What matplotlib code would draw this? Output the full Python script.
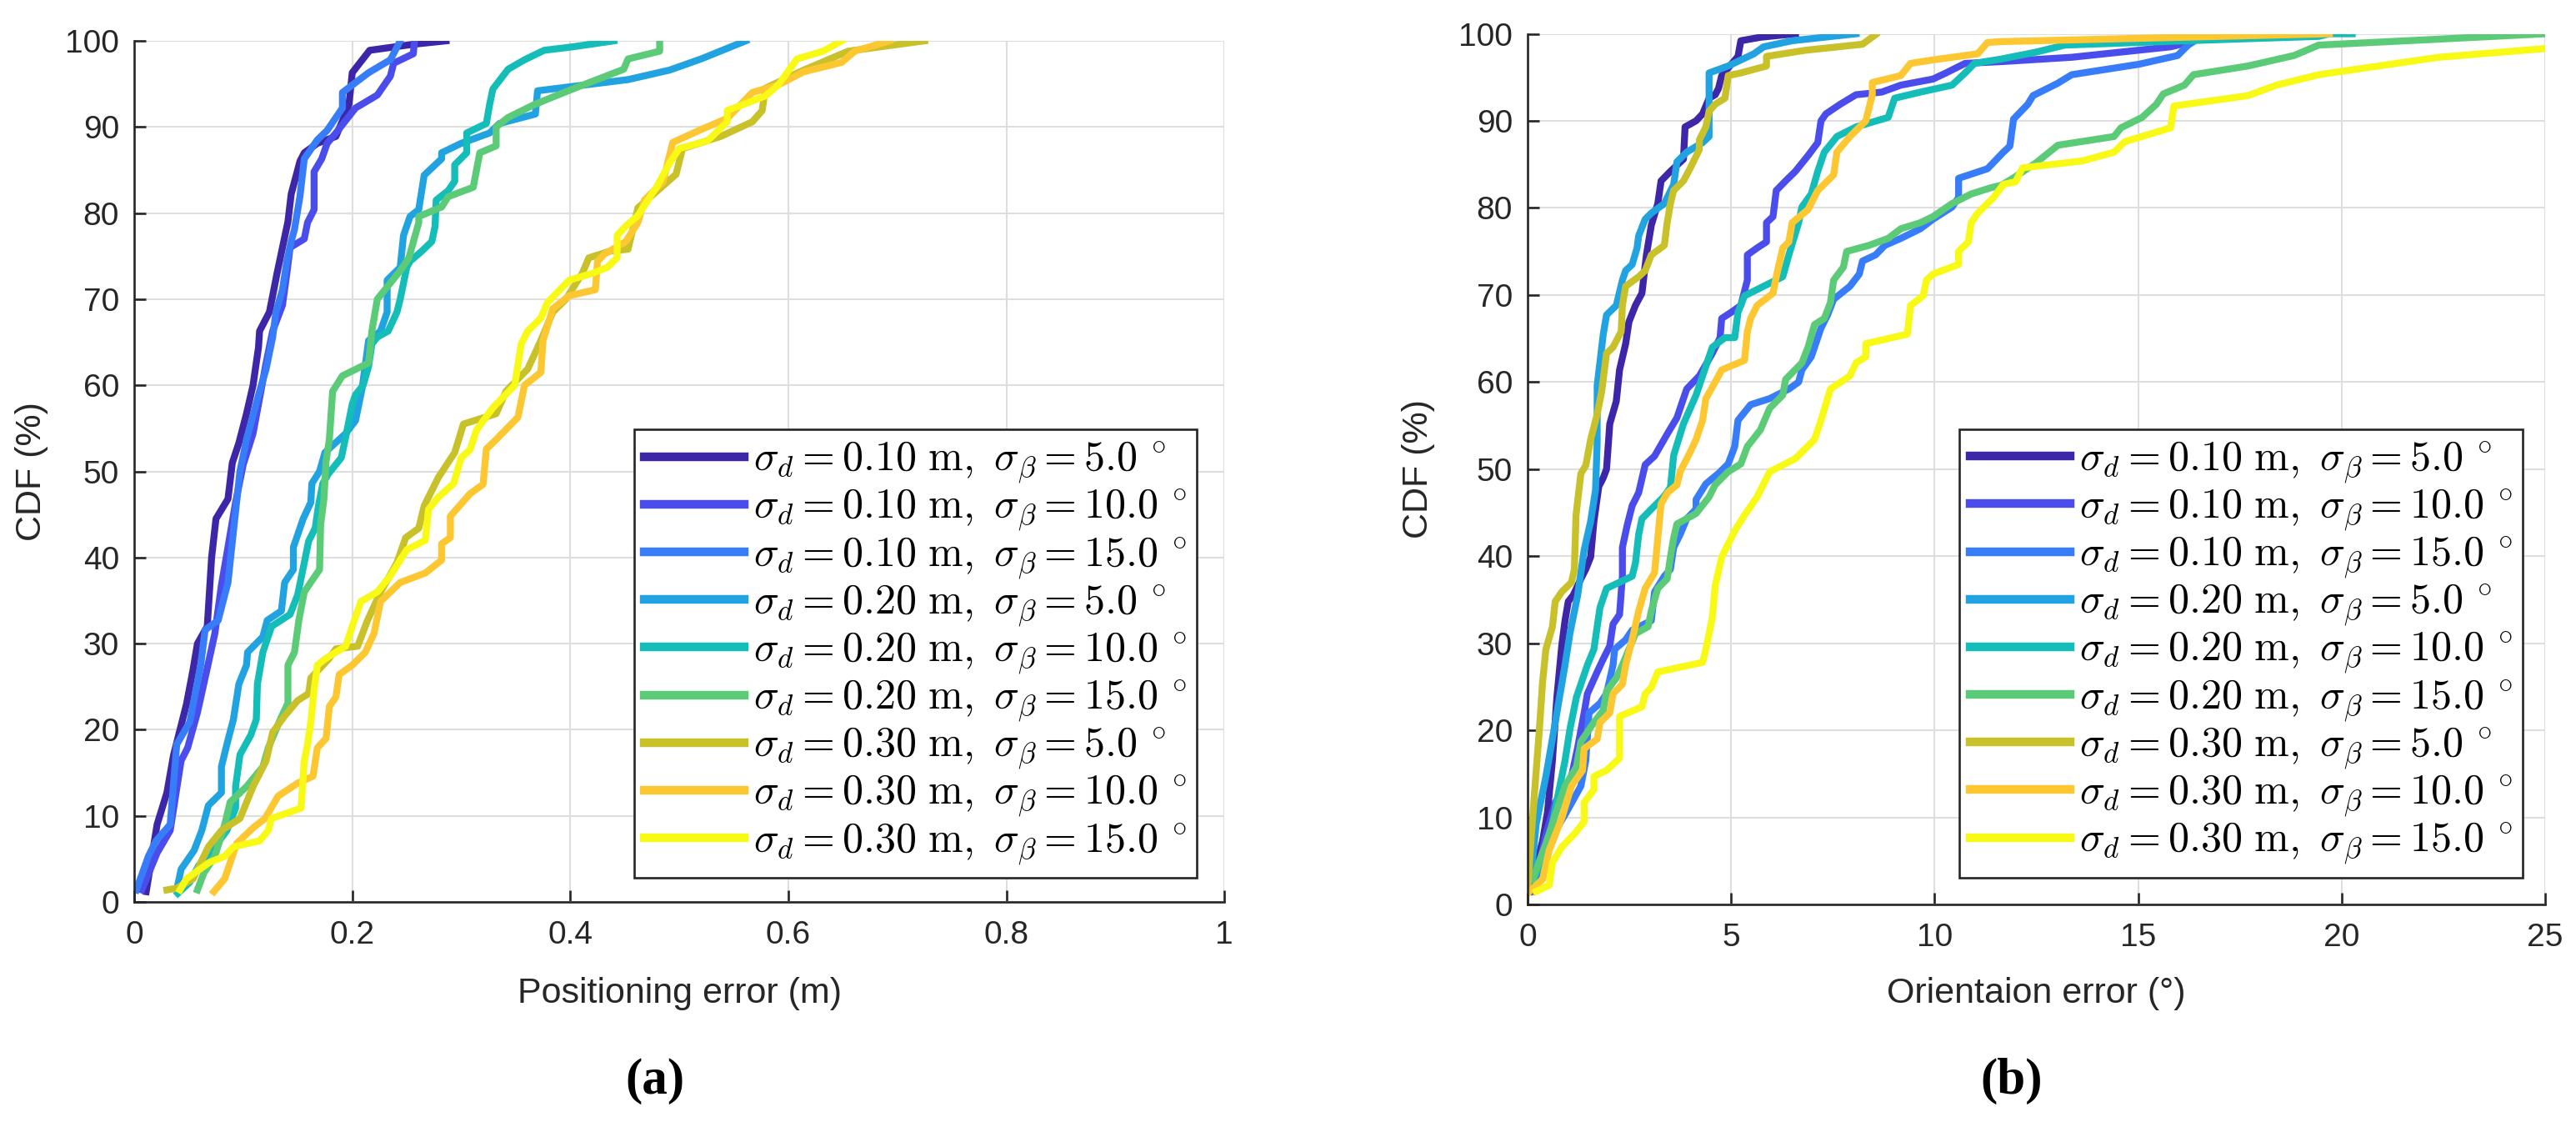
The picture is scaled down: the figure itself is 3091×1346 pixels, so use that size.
import numpy as np
import matplotlib
matplotlib.use("Agg")
import matplotlib.pyplot as plt

# ---- data (x value, CDF %) ----
sigma_d = ["0.10", "0.10", "0.10", "0.20", "0.20", "0.20", "0.30", "0.30", "0.30"]
sigma_b = ["5.0", "10.0", "15.0", "5.0", "10.0", "15.0", "5.0", "10.0", "15.0"]
colors = ["#3E26A8", "#4A4DEB", "#377CF9", "#20A3E0", "#14BDB8",
          "#5CCB77", "#C8C12A", "#FDC732", "#F8F914"]

# (a) positioning error (m)
pos_d10_b5 = [(0.011, 1.2), (0.021, 9), (0.030, 12.7), (0.036, 17), (0.048, 23), (0.054, 27),
              (0.058, 30), (0.067, 32), (0.071, 40), (0.075, 44.5), (0.086, 46.8), (0.090, 51),
              (0.096, 53.3), (0.103, 56.7), (0.109, 60), (0.114, 64.4), (0.115, 66.3), (0.124, 68.5),
              (0.127, 70.4), (0.131, 73), (0.136, 76), (0.141, 79), (0.144, 82.2), (0.152, 86),
              (0.156, 87), (0.168, 88.1), (0.185, 88.9), (0.191, 90.7), (0.197, 92.6), (0.200, 96.3),
              (0.216, 98.9), (0.256, 99.6), (0.286, 100)]
pos_d10_b10 = [(0.007, 1.4), (0.021, 5.7), (0.033, 8.3), (0.043, 16.4), (0.049, 17.9), (0.058, 22),
               (0.065, 26), (0.074, 31.2), (0.080, 36.8), (0.086, 41.2), (0.093, 46.4), (0.100, 50.8),
               (0.109, 54.4), (0.115, 58.5), (0.121, 62.6), (0.127, 66.3), (0.136, 69.3), (0.140, 73),
               (0.143, 76), (0.156, 77), (0.159, 78.9), (0.165, 80.4), (0.165, 84.8), (0.172, 86.3),
               (0.177, 88.1), (0.185, 89.3), (0.203, 92.2), (0.223, 93.7), (0.235, 95.9), (0.238, 97.4),
               (0.256, 98.5), (0.257, 99.8)]
pos_d10_b15 = [(0.002, 1.4), (0.013, 5.3), (0.020, 7.1), (0.033, 9), (0.039, 18.3), (0.051, 20.9),
               (0.061, 27.5), (0.065, 31.6), (0.077, 32.7), (0.086, 37.1), (0.092, 44.2), (0.097, 50),
               (0.103, 53.7), (0.115, 59.3), (0.121, 61.9), (0.127, 65.6), (0.130, 68.5), (0.136, 71.1),
               (0.140, 74.4), (0.144, 76.7), (0.147, 78.1), (0.152, 81.9), (0.156, 86.3), (0.168, 88.5),
               (0.177, 89.6), (0.191, 92.2), (0.191, 94), (0.215, 96.3), (0.235, 97.8), (0.244, 100)]
pos_d20_b5 = [(0.040, 2.0), (0.043, 3.8), (0.055, 6), (0.062, 8.3), (0.068, 11.2), (0.080, 12.7),
              (0.080, 15.7), (0.085, 18.3), (0.091, 21.2), (0.096, 25.3), (0.103, 27.5), (0.104, 29),
              (0.118, 30.8), (0.122, 32.7), (0.135, 33.8), (0.138, 37.1), (0.146, 38.6), (0.146, 41.2),
              (0.155, 44.5), (0.162, 46.4), (0.163, 48.6), (0.170, 50), (0.175, 52.2), (0.194, 54.4),
              (0.203, 55.9), (0.209, 59.6), (0.215, 65.2), (0.226, 66.3), (0.232, 68.5), (0.232, 72.2),
              (0.244, 73.7), (0.247, 77.4), (0.253, 79.6), (0.261, 80.4), (0.266, 84.4), (0.282, 86.3),
              (0.282, 87), (0.300, 88.1), (0.326, 89.3), (0.335, 90.4), (0.368, 91.5), (0.370, 94.2),
              (0.453, 95.5), (0.491, 96.6), (0.520, 97.9), (0.561, 100)]
pos_d20_b10 = [(0.040, 1), (0.051, 2.3), (0.059, 4.2), (0.074, 6.4), (0.085, 8.3), (0.093, 10.9),
               (0.093, 13.4), (0.097, 17.1), (0.107, 19.4), (0.112, 21.2), (0.113, 25.3), (0.118, 29),
               (0.126, 32), (0.143, 33.4), (0.150, 35.7), (0.156, 39.4), (0.160, 41.9), (0.166, 43.4),
               (0.169, 46), (0.173, 48.6), (0.178, 49.7), (0.190, 51.6), (0.194, 54), (0.200, 57.8),
               (0.203, 58.9), (0.210, 60), (0.215, 62.2), (0.218, 64.8), (0.223, 65.6), (0.233, 66.3),
               (0.241, 68.5), (0.244, 70), (0.250, 73.7), (0.253, 74.4), (0.264, 75.6), (0.273, 76.7),
               (0.276, 78.5), (0.277, 81.5), (0.288, 82.6), (0.294, 83.7), (0.294, 85.6), (0.305, 87),
               (0.305, 89.3), (0.323, 90.4), (0.326, 92.6), (0.329, 94.4), (0.343, 96.7), (0.358, 97.8),
               (0.376, 98.9), (0.402, 99.3), (0.440, 100)]
pos_d20_b15 = [(0.058, 1.4), (0.064, 3.4), (0.074, 5.3), (0.083, 9), (0.088, 11.6), (0.103, 13.4),
               (0.118, 15.7), (0.123, 17.9), (0.134, 21.2), (0.141, 23.1), (0.141, 27.5), (0.147, 29),
               (0.151, 32.7), (0.156, 36), (0.164, 37.5), (0.170, 38.6), (0.171, 43.8), (0.174, 46.8),
               (0.176, 51.2), (0.179, 53.7), (0.182, 59.3), (0.191, 61.1), (0.215, 62.6), (0.218, 66.3),
               (0.223, 70), (0.244, 73.3), (0.252, 74.8), (0.261, 78.9), (0.261, 79.6), (0.282, 80.7),
               (0.288, 81.9), (0.311, 83), (0.317, 87), (0.332, 87.8), (0.332, 90), (0.343, 91.1),
               (0.367, 92.6), (0.402, 94.4), (0.449, 96.7), (0.453, 97.9), (0.482, 98.8), (0.482, 100)]
pos_d30_b5 = [(0.030, 1.4), (0.039, 1.6), (0.054, 2.7), (0.068, 6.4), (0.080, 8.3), (0.097, 9.7),
              (0.109, 13.4), (0.121, 16.4), (0.127, 19.7), (0.138, 21.6), (0.150, 23.4), (0.160, 24.2),
              (0.162, 26), (0.179, 28.3), (0.185, 29.4), (0.205, 29.7), (0.214, 32.7), (0.226, 36),
              (0.241, 39.4), (0.249, 42.3), (0.261, 43.4), (0.266, 46), (0.279, 49.3), (0.294, 52.2),
              (0.302, 55.5), (0.332, 56.7), (0.341, 59.3), (0.361, 61.9), (0.373, 65.2), (0.384, 68.5),
              (0.396, 70), (0.411, 73), (0.417, 74.8), (0.437, 75.6), (0.453, 75.8), (0.462, 80.6),
              (0.497, 84.5), (0.503, 87.5), (0.538, 88.9), (0.567, 90.6), (0.576, 91.9), (0.579, 94.5),
              (0.614, 96.6), (0.655, 98.8), (0.725, 100)]
pos_d30_b10 = [(0.073, 1.2), (0.083, 2.7), (0.094, 6.8), (0.109, 8.6), (0.120, 9.7), (0.132, 12.3),
               (0.150, 13.8), (0.164, 14.6), (0.168, 17.9), (0.176, 19), (0.179, 22.7), (0.185, 23.8),
               (0.188, 26.4), (0.200, 27.5), (0.212, 29), (0.220, 31.2), (0.226, 34.9), (0.244, 37.1),
               (0.267, 38.2), (0.282, 39.7), (0.282, 41.6), (0.290, 42.3), (0.290, 44.8), (0.308, 47.4),
               (0.320, 48.5), (0.323, 52.6), (0.332, 53.7), (0.352, 56.3), (0.358, 60), (0.373, 61.5),
               (0.375, 65.2), (0.384, 68.9), (0.399, 70.4), (0.423, 71.1), (0.425, 74.4), (0.431, 75.2),
               (0.451, 76.7), (0.462, 78.9), (0.468, 81.5), (0.485, 83.6), (0.491, 86.7), (0.494, 88.2),
               (0.520, 89.7), (0.544, 91), (0.567, 94), (0.591, 94.9), (0.614, 96.4), (0.649, 97.5),
               (0.661, 98.8), (0.693, 100)]
pos_d30_b15 = [(0.042, 1.4), (0.048, 2.7), (0.069, 4.6), (0.083, 5.3), (0.091, 6.4), (0.115, 7.1),
               (0.123, 8.3), (0.126, 9.7), (0.153, 10.9), (0.156, 16.4), (0.159, 18.3), (0.162, 20.9),
               (0.165, 24.6), (0.168, 27.5), (0.176, 28.3), (0.194, 29.7), (0.200, 32), (0.208, 34.9),
               (0.223, 36), (0.235, 37.9), (0.250, 40.9), (0.267, 42), (0.270, 45.6), (0.279, 47),
               (0.293, 48.6), (0.300, 51.6), (0.308, 52.5), (0.314, 54.8), (0.329, 57.4), (0.349, 60),
               (0.355, 64.8), (0.361, 66.3), (0.373, 67.8), (0.379, 69.6), (0.399, 72.2), (0.420, 73),
               (0.434, 73.7), (0.443, 74.8), (0.443, 77.4), (0.451, 78.5), (0.462, 79.7), (0.480, 83.2),
               (0.491, 85.8), (0.500, 87.5), (0.526, 88.4), (0.544, 90.6), (0.544, 91.9), (0.579, 93.6),
               (0.591, 94.9), (0.608, 97.9), (0.632, 98.8), (0.649, 100)]

# (b) orientation error (deg)
ori_d10_b5 = [(0.055, 1.5), (0.37, 7.3), (0.49, 10.6), (0.61, 16.5), (0.72, 23.8), (0.84, 29.7),
              (0.92, 32.6), (1.0, 34.8), (1.12, 35.5), (1.31, 37.4), (1.43, 38.5), (1.55, 39.9),
              (1.63, 44), (1.75, 48), (1.86, 49), (1.94, 50), (2.02, 55.2), (2.18, 57.8), (2.26, 61.4),
              (2.41, 64.4), (2.49, 66.9), (2.65, 68.8), (2.81, 70.2), (2.92, 74.6), (3.04, 78),
              (3.20, 80.5), (3.28, 83.1), (3.51, 84.2), (3.83, 85.6), (3.87, 89.3), (4.14, 90),
              (4.30, 90.8), (4.46, 92.6), (4.61, 93), (4.69, 93.7), (4.77, 95.2), (5.17, 97.4),
              (5.24, 99.2), (5.72, 99.6), (6.58, 100)]
ori_d10_b10 = [(0.13, 1.5), (0.45, 8), (0.68, 11.7), (1.08, 14.7), (1.23, 18), (1.39, 22), (1.47, 24.2),
               (1.71, 26.7), (1.86, 28.2), (2.02, 29.7), (2.10, 32.2), (2.26, 33.3), (2.33, 37.7),
               (2.33, 41), (2.45, 43.6), (2.57, 45.8), (2.73, 47.3), (2.89, 50.5), (3.12, 51.5),
               (3.44, 54.1), (3.67, 55.9), (3.91, 59.2), (4.22, 60.7), (4.54, 63.3), (4.73, 65.1),
               (4.77, 67.3), (5.0, 68), (5.24, 68.8), (5.40, 71.7), (5.40, 74.6), (5.64, 75.4),
               (5.87, 76.1), (5.87, 78.3), (6.03, 79), (6.11, 82), (6.34, 83.1), (6.58, 84.2),
               (6.89, 86), (7.13, 87.5), (7.21, 90), (7.33, 90.8), (7.68, 91.9), (8.07, 93),
               (8.70, 93.3), (9.17, 94.1), (9.96, 94.8), (10.28, 95.5), (10.75, 96.6), (11.64, 96.8),
               (13.37, 97.3), (15.80, 98.5), (16.32, 99.1), (16.66, 100)]
ori_d10_b15 = [(0.21, 2.6), (0.53, 7.3), (0.92, 10.3), (1.31, 13.6), (1.43, 16.5), (1.51, 22),
               (1.78, 23.1), (1.94, 24.2), (2.10, 27.5), (2.14, 29.3), (2.41, 30.4), (2.57, 31.5),
               (3.04, 32.6), (3.12, 35.9), (3.36, 37.7), (3.51, 38.5), (3.59, 41), (3.75, 42.5),
               (3.91, 44.3), (4.14, 45.4), (4.14, 46.5), (4.38, 48.3), (4.69, 49.5), (4.93, 50.6),
               (5.09, 52.6), (5.17, 55.6), (5.48, 57.4), (5.95, 58.1), (6.42, 59.2), (6.66, 60),
               (6.74, 61.4), (6.97, 62.9), (7.13, 65.1), (7.21, 66.2), (7.37, 67.7), (7.52, 69.5),
               (7.92, 71), (8.15, 72.4), (8.23, 73.9), (8.55, 74.6), (8.78, 75.7), (9.17, 76.5),
               (9.65, 77.6), (9.96, 78.7), (10.43, 80.1), (10.59, 81.2), (10.59, 83.4), (11.30, 84.5),
               (11.69, 86.4), (11.85, 87.1), (11.94, 90.2), (12.29, 91.9), (12.42, 92.9), (13.02, 94.3),
               (13.37, 95.3), (15.02, 96.5), (15.97, 97.5), (16.23, 98.7), (16.66, 100)]
ori_d20_b5 = [(0.055, 1.8), (0.21, 9.2), (0.45, 14.7), (0.68, 20.9), (0.92, 27.5), (1.04, 31.1),
              (1.23, 35.5), (1.39, 40.7), (1.55, 44), (1.67, 47.6), (1.71, 53), (1.71, 59.6),
              (1.86, 65.5), (1.94, 67.7), (2.18, 68.8), (2.33, 71.7), (2.41, 72.8), (2.57, 73.5),
              (2.69, 75.4), (2.73, 76.8), (2.89, 78.7), (3.04, 79.4), (3.36, 80.5), (3.59, 82.7),
              (3.67, 85.3), (3.91, 86.4), (4.30, 87.5), (4.46, 88.2), (4.46, 92.2), (4.46, 95.5),
              (4.93, 96.3), (5.56, 97.7), (5.80, 98.5), (6.50, 99.2), (8.07, 100)]
ori_d20_b10 = [(0.13, 2.6), (0.53, 7.3), (0.68, 11), (0.92, 16.5), (1.04, 20.1), (1.20, 23.8),
               (1.31, 25.3), (1.47, 27.5), (1.63, 29.3), (1.71, 31.9), (1.78, 34.1), (1.94, 36.3),
               (2.26, 37), (2.57, 37.7), (2.65, 39.2), (2.73, 42.5), (2.81, 44.3), (3.04, 45.4),
               (3.36, 46.9), (3.51, 47.9), (3.59, 51.6), (3.83, 55.2), (4.14, 58.5), (4.30, 60.7),
               (4.54, 64), (4.85, 65.1), (5.09, 65.1), (5.17, 68), (5.33, 69.9), (5.80, 71),
               (6.27, 72.1), (6.42, 74.6), (6.66, 78.3), (6.74, 80.1), (6.97, 81.6), (7.13, 84.2),
               (7.29, 86.4), (7.60, 88.2), (8.07, 89.3), (8.86, 90.4), (9.02, 92.6), (9.65, 93.3),
               (10.43, 94.1), (10.75, 95.5), (10.98, 96.6), (11.64, 97.1), (12.5, 97.9), (13.2, 98.7),
               (16.84, 99.3), (19.44, 99.7), (19.70, 100), (20.26, 100)]
ori_d20_b15 = [(0.13, 2.9), (0.45, 7), (0.76, 11.4), (0.92, 13.6), (1.20, 15.8), (1.31, 18.7),
               (1.63, 20.9), (1.86, 22.3), (1.94, 24.5), (2.18, 26), (2.33, 27.5), (2.49, 29.3),
               (2.65, 31.1), (2.96, 31.9), (3.04, 33.7), (3.20, 36.3), (3.43, 37.4), (3.51, 39.9),
               (3.59, 42.1), (3.67, 43.7), (4.14, 44.9), (4.46, 46.8), (4.61, 48.2), (4.93, 49.7),
               (5.24, 50.6), (5.40, 52.6), (5.72, 54.5), (5.95, 57), (6.27, 58.5), (6.34, 60.3),
               (6.74, 62.2), (6.89, 64), (7.05, 66.6), (7.29, 67.3), (7.44, 69.1), (7.52, 71.7),
               (7.76, 73.2), (7.84, 75), (8.39, 75.7), (8.86, 76.5), (9.17, 77.6), (9.65, 78.3),
               (9.96, 79), (10.43, 80.5), (10.90, 81.6), (11.37, 82.3), (11.64, 82.6), (11.99, 83.6),
               (12.5, 85.2), (13.03, 87.2), (14.41, 88.2), (14.58, 89.2), (15.10, 90.4), (15.45, 91.9),
               (15.62, 93.1), (16.14, 94.1), (16.36, 95.3), (17.70, 96.3), (18.83, 97.5), (19.44, 98.7),
               (22.04, 99.3), (25.0, 100)]
ori_d30_b5 = [(0.0, 1.5), (0.055, 5.5), (0.17, 12.8), (0.29, 20.1), (0.37, 25.6), (0.45, 29.3),
              (0.61, 31.9), (0.68, 34.8), (0.84, 35.9), (1.08, 37), (1.15, 38.5), (1.19, 44.7),
              (1.31, 49.5), (1.43, 50.4), (1.55, 53.4), (1.71, 56.3), (1.82, 58.9), (1.94, 63.3),
              (2.10, 64), (2.30, 65.8), (2.33, 68.8), (2.41, 71), (2.73, 72.1), (2.89, 72.8),
              (3.04, 74.6), (3.36, 75.7), (3.43, 78.3), (3.51, 80.5), (3.59, 82), (3.83, 83.1),
              (3.99, 84.5), (4.22, 86.7), (4.22, 87.8), (4.38, 89.3), (4.46, 91.1), (4.61, 91.9),
              (4.85, 92.6), (4.93, 95.2), (5.24, 95.5), (5.87, 96.3), (5.87, 97.4), (6.82, 98.1),
              (8.23, 98.8), (8.55, 99.9)]
ori_d30_b10 = [(0.055, 1.5), (0.37, 2.9), (0.53, 6.2), (0.84, 9.9), (1.08, 13.6), (1.35, 15.4),
               (1.39, 17.9), (1.71, 19), (1.78, 20.9), (2.02, 22), (2.10, 24.2), (2.33, 25.3),
               (2.41, 27.5), (2.57, 30.4), (2.73, 33.7), (2.89, 36.3), (3.12, 38.1), (3.20, 42.1),
               (3.28, 46), (3.44, 47.3), (3.67, 48.2), (3.75, 49.7), (3.99, 51.9), (4.14, 53.4),
               (4.30, 55.6), (4.38, 58.1), (4.61, 60), (4.77, 61.4), (5.33, 62.5), (5.40, 65.8),
               (5.48, 67.3), (5.64, 68.8), (6.03, 70.2), (6.11, 72.1), (6.27, 75.4), (6.42, 76.1),
               (6.50, 78.3), (6.89, 79.8), (7.13, 82), (7.52, 83.8), (7.60, 86.4), (7.92, 88.2),
               (8.31, 90), (8.47, 93), (8.47, 94.4), (9.17, 95.2), (9.41, 96.6), (9.96, 97),
               (11.06, 97.7), (11.30, 99), (11.64, 99.1), (19.70, 100)]
ori_d30_b15 = [(0.21, 1.5), (0.53, 2.2), (0.61, 4.8), (0.84, 6.6), (1.15, 8.1), (1.39, 9.5),
               (1.39, 11.7), (1.63, 13.2), (1.63, 14.7), (1.94, 15.4), (2.26, 16.8), (2.26, 21.6),
               (2.81, 22.7), (2.89, 24.2), (3.04, 24.9), (3.20, 26.7), (4.30, 27.8), (4.38, 29.3),
               (4.46, 31.1), (4.54, 33), (4.61, 36.6), (4.77, 39.9), (5.09, 42.9), (5.33, 44.7),
               (5.64, 46.8), (5.95, 49.7), (6.58, 51.2), (7.05, 53.4), (7.21, 55.6), (7.37, 58.1),
               (7.44, 59.2), (7.92, 60.7), (8.07, 62.2), (8.31, 62.9), (8.31, 64.4), (9.33, 65.5),
               (9.41, 68.8), (9.72, 69.9), (9.80, 71.7), (9.96, 72.4), (10.59, 73.5), (10.59, 75),
               (10.83, 76.1), (10.90, 78.3), (11.06, 79.4), (11.45, 81.2), (11.69, 82.7), (11.99, 83),
               (12.16, 84.6), (13.63, 85.4), (14.41, 86.4), (14.67, 87.6), (15.80, 89.2), (15.88, 91.7),
               (17.70, 92.9), (18.40, 94.1), (19.44, 95.3), (22.38, 97.3), (25.0, 98.3)]

pos_series = [pos_d10_b5, pos_d10_b10, pos_d10_b15, pos_d20_b5, pos_d20_b10,
              pos_d20_b15, pos_d30_b5, pos_d30_b10, pos_d30_b15]
ori_series = [ori_d10_b5, ori_d10_b10, ori_d10_b15, ori_d20_b5, ori_d20_b10,
              ori_d20_b15, ori_d30_b5, ori_d30_b10, ori_d30_b15]

cdf_ticks = list(range(0, 101, 10))
pos_ticks = [0, 0.2, 0.4, 0.6, 0.8, 1.0]
pos_ticklabels = ["0", "0.2", "0.4", "0.6", "0.8", "1"]
ori_ticks = [0, 5, 10, 15, 20, 25]
ori_ticklabels = ["0", "5", "10", "15", "20", "25"]

plt.rcParams["mathtext.fontset"] = "cm"
plt.rcParams["font.family"] = ["Liberation Sans", "DejaVu Sans"]

AX_COLOR = "#262626"
fig = plt.figure(figsize=(30.91, 13.46), dpi=100)
ax_a = fig.add_axes([0.0521, 0.1961, 0.4232, 0.7675])
ax_b = fig.add_axes([0.5930, 0.1939, 0.3950, 0.7760])

labels = [r"$\sigma_d = %s\ \mathrm{m},\ \sigma_\beta = %s\ {}^{\circ}$" % (d, b)
          for d, b in zip(sigma_d, sigma_b)]


def style_axes(ax, ticks, ticklabels, xmax, xlabel, ylab_x, xlab_y, leg_anchor):
    ax.set_xlim(0, xmax)
    ax.set_ylim(0, 100)
    ax.set_xticks(ticks)
    ax.set_xticklabels(ticklabels)
    ax.set_yticks(cdf_ticks)
    ax.grid(True, color="#DEDEDE", linewidth=1.5)
    ax.set_axisbelow(True)
    for side in ["top", "right"]:
        ax.spines[side].set_visible(False)
    for side in ["left", "bottom"]:
        ax.spines[side].set_color(AX_COLOR)
        ax.spines[side].set_linewidth(1.9)
    ax.tick_params(direction="in", length=10, width=1.9, color=AX_COLOR,
                   labelcolor=AX_COLOR, labelsize=28)
    ax.tick_params(axis="x", pad=16)
    ax.tick_params(axis="y", pad=13)
    ax.set_xlabel(xlabel, fontsize=31, color=AX_COLOR)
    ax.set_ylabel("CDF (%)", fontsize=31, color=AX_COLOR)
    ax.yaxis.set_label_coords(ylab_x, 0.5)
    ax.xaxis.set_label_coords(0.5, xlab_y)
    leg = ax.legend(loc="lower right", bbox_to_anchor=leg_anchor, fontsize=36,
                    frameon=True, fancybox=False, framealpha=1, edgecolor=AX_COLOR,
                    borderaxespad=0, handlelength=2.4, handletextpad=0.22,
                    labelspacing=0.03, borderpad=0.25)
    leg.get_frame().set_linewidth(1.9)
    for line in leg.get_lines():
        line.set_linewidth(7.5)


for data, col, lab in zip(pos_series, colors, labels):
    arr = np.array(data)
    ax_a.plot(arr[:, 0], arr[:, 1], color=col, linewidth=6, label=lab)
for data, col, lab in zip(ori_series, colors, labels):
    arr = np.array(data)
    ax_b.plot(arr[:, 0], arr[:, 1], color=col, linewidth=6, label=lab)

style_axes(ax_a, pos_ticks, pos_ticklabels, 1.0, "Positioning error (m)",
           -0.0787, -0.0871, (0.975, 0.028))
style_axes(ax_b, ori_ticks, ori_ticklabels, 25, "Orientaion error (°)",
           -0.091, -0.0833, (0.978, 0.031))

fig.text(0.2543, 0.0364, "(a)", ha="center", va="center", fontsize=44,
         fontweight="bold", family=["Liberation Serif", "DejaVu Serif"])
fig.text(0.7810, 0.0364, "(b)", ha="center", va="center", fontsize=44,
         fontweight="bold", family=["Liberation Serif", "DejaVu Serif"])

fig.savefig("out.png", dpi=100, facecolor="white")
